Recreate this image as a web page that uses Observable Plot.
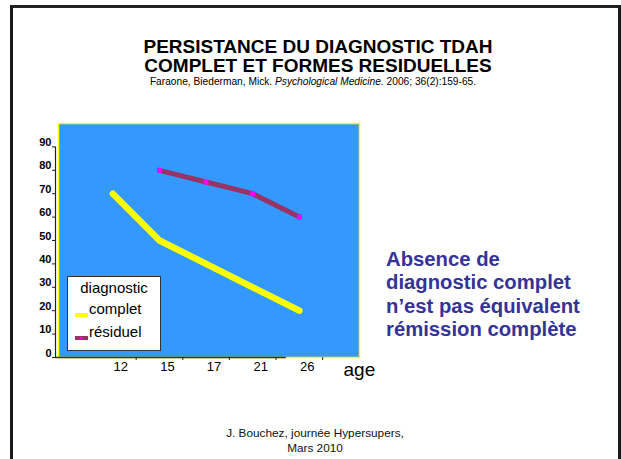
<!DOCTYPE html>
<html><head><meta charset="utf-8">
<script src="https://cdn.jsdelivr.net/npm/d3@7"></script>
<script src="https://cdn.jsdelivr.net/npm/@observablehq/plot@0.6"></script>
<style>
body{margin:0;background:#fff;font-family:"Liberation Sans",Arial,Helvetica,sans-serif;}
#slide{position:relative;width:621px;height:459px;overflow:hidden;background:#fff;}
#border{position:absolute;left:10px;top:5px;width:605px;height:470px;border:3px solid #1a1a1a;border-top-color:#222;}
#title{position:absolute;left:0;width:636px;top:37px;text-align:center;font-weight:bold;font-size:19px;line-height:19px;color:#000;}
#cite{position:absolute;left:0;width:626px;top:75px;text-align:center;font-size:10.2px;line-height:13px;color:#000;}
#chart{position:absolute;left:0;top:100px;}
#legend{position:absolute;left:67px;top:276px;width:92px;height:73px;border:1px solid #333;background:#fff;font-size:15px;color:#000;}
#legend .h{position:absolute;left:0;width:92px;top:2px;text-align:center;line-height:18px;}
#legend .t{position:absolute;left:21px;line-height:18px;}
#legend .sw{position:absolute;left:7px;width:13px;height:4px;}
#note{position:absolute;left:386px;top:248px;font-weight:bold;font-size:20.3px;line-height:23.3px;color:#333399;}
#footer{position:absolute;left:0;width:630px;top:426px;text-align:center;font-size:11.8px;line-height:15px;color:#111;}
</style></head><body>
<div id="slide">
  <div id="border"></div>
  <div id="title">PERSISTANCE DU DIAGNOSTIC TDAH<br>COMPLET ET FORMES RESIDUELLES</div>
  <div id="cite">Faraone, Biederman, Mick. <i>Psychological Medicine.</i> 2006; 36(2):159-65.</div>
  <div id="chart"></div>
  <div id="legend"></div>
  <div id="note">Absence de<br>diagnostic complet<br>n’est pas équivalent<br>rémission complète</div>
  <div id="footer">J. Bouchez, journée Hypersupers,<br>Mars 2010</div>
</div>
<script>
const ages = ["12", "15", "17", "21", "26"];
const complet = [70, 50, 40, 30, 20];
const residuel = [null, 80, 75, 70, 60];
const yTicks = [0, 10, 20, 30, 40, 50, 60, 70, 80, 90];
const seriesNames = ["complet", "résiduel"];
const legendTitle = "diagnostic";
const xLabel = "age";

const colComplet = "#FFFF00";
const colResiduel = "#993366";
const colMarker = "#FF00FF";

const completRows = ages.map((a, i) => ({i, age: a, v: complet[i]})).filter(d => d.v != null);
const residuelRows = ages.map((a, i) => ({i, age: a, v: residuel[i]})).filter(d => d.v != null);

const xMin = -1.23, xMax = 5.29;

const chart = Plot.plot({
  width: 420,
  height: 300,
  marginLeft: 55,
  marginRight: 61,
  marginTop: 23,
  marginBottom: 43,
  style: {fontFamily: "Liberation Sans, Arial, sans-serif", background: "transparent", overflow: "visible", color: "#000"},
  x: {type: "linear", domain: [xMin, xMax], axis: null},
  y: {domain: [0, 100], axis: null},
  marks: [
    Plot.frame({fill: "#3399FF", stroke: "#FFFF00", strokeWidth: 1.5, insetLeft: 3}),
    Plot.ruleY([0], {x1: xMin, x2: 3.72, stroke: "#333", strokeWidth: 1.5}),
    Plot.ruleX([xMin], {y1: 0, y2: 90, stroke: "#222", strokeWidth: 1.2}),
    Plot.axisY({ticks: yTicks, tickSize: 3, tickFormat: () => "", label: null, stroke: "#222"}),
    Plot.text(yTicks, {y: d => d, frameAnchor: "left", textAnchor: "end", dx: -4, dy: -4.5, fontWeight: "bold", fontSize: 11, fill: "#000"}),
    Plot.axisX({ticks: ages.map((_, i) => i + 0.5), tickSize: 3, tickFormat: () => "", label: null, stroke: "#222"}),
    Plot.text(ages, {x: (d, i) => i, frameAnchor: "bottom", dy: 13, dx: 8, fontSize: 13, fill: "#000"}),
    Plot.text([xLabel], {frameAnchor: "bottom-right", textAnchor: "start", dx: -16, dy: 18, fontSize: 19, fill: "#000"}),
    Plot.line(completRows, {x: "i", y: "v", stroke: colComplet, strokeWidth: 6.5, strokeLinejoin: "round"}),
    Plot.dot(completRows, {x: "i", y: "v", symbol: "square", r: 2.5, fill: colComplet}),
    Plot.line(residuelRows, {x: "i", y: "v", stroke: colResiduel, strokeWidth: 5}),
    Plot.dot(residuelRows, {x: "i", y: "v", symbol: "square", r: 2.8, fill: colMarker})
  ]
});
document.getElementById("chart").appendChild(chart);

const lg = document.getElementById("legend");
lg.innerHTML =
  `<div class="h">${legendTitle}</div>` +
  `<div class="sw" style="top:36px;background:${colComplet}"></div>` +
  `<div class="t" style="top:23px">${seriesNames[0]}</div>` +
  `<div class="sw" style="top:59px;background:${colResiduel}"><div style="position:absolute;left:5px;top:1px;width:2px;height:2px;background:${colMarker}"></div></div>` +
  `<div class="t" style="top:46px">${seriesNames[1]}</div>`;
</script>
</body></html>
